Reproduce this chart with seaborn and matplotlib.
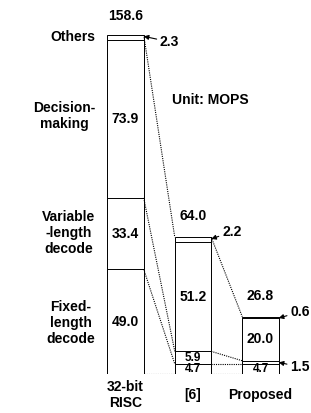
import matplotlib
matplotlib.use("Agg")
import matplotlib.pyplot as plt
import seaborn as sns
import numpy as np

categories = ["32-bit\nRISC", "[6]", "Proposed"]
fixed = [49.0, 4.7, 4.7]
variable = [33.4, 5.9, 1.5]
decision = [73.9, 51.2, 20.0]
others = [2.3, 2.2, 0.6]
totals = [158.6, 64.0, 26.8]
row_labels = ["Others", "Decision-\nmaking", "Variable\n-length\ndecode", "Fixed-\nlength\ndecode"]

sns.set_theme(style="white")
plt.rcParams['font.family'] = ['Liberation Sans', 'DejaVu Sans']
plt.rcParams['font.weight'] = 'bold'
plt.rcParams['text.color'] = 'black'

fig = plt.figure(figsize=(3.11, 4.13), dpi=100)
ax = fig.add_axes([0, 0.0944, 1, 0.828])

segs = np.array([fixed, variable, decision, others])
cum = np.cumsum(segs, axis=0)
W = 0.54
for level in range(cum.shape[0] - 1, -1, -1):
    sns.barplot(x=categories, y=list(cum[level]), order=categories, color="white",
                saturation=1, edgecolor="black", linewidth=0.7, width=W, ax=ax)

FS = 10
inside = {0: [0, 1, 2], 1: [0, 1, 2], 2: [0, 2]}
for i, levs in inside.items():
    for lv in levs:
        bottom = cum[lv - 1][i] if lv > 0 else 0
        mid = bottom + segs[lv][i] / 2
        fs = FS if segs[lv][i] > 8 else 8.5
        ax.text(i, mid, f"{segs[lv][i]:.1f}", ha="center", va="center", fontsize=fs,
                fontweight="bold", color="black")

tot_y = [167.5, 73.9, 36.5]
for i, t in enumerate(totals):
    ax.text(i, tot_y[i], f"{t:.1f}", ha="center", va="center", fontsize=FS, fontweight="bold",
            clip_on=False, color="black")

h = W / 2
arrows = [
    (f"{others[0]:.1f}", (0 + h, cum[3][0] - 0.6), (0.51, 155.4)),
    (f"{others[1]:.1f}", (1 + h, cum[3][1] - 0.8), (1.43, 66.5)),
    (f"{others[2]:.1f}", (2 + h, cum[3][2] - 0.6), (2.44, 29.0)),
    (f"{variable[2]:.1f}", (2 + h, cum[0][2] + variable[2] / 2), (2.44, 3.3)),
]
for txt, tip, pos in arrows:
    ax.annotate(txt, xy=tip, xytext=pos, ha="left", va="center", fontsize=FS, fontweight="bold",
                color="black",
                arrowprops=dict(arrowstyle="-|>", color="black", lw=0.8, mutation_scale=7,
                                shrinkA=0, shrinkB=0), annotation_clip=False)

for a, b in [(0, 1), (1, 2)]:
    la = [0] + list(cum[:, a])
    lb = [0] + list(cum[:, b])
    for idx in [0, 1, 2, 4]:
        ax.plot([a + h, b - h], [la[idx], lb[idx]], linestyle=(0, (1, 1)), color="black", lw=0.8)

row_y = [157.7, 120.7, 66.0, 23.9]
for lab, y in zip(row_labels, row_y):
    ax.text(-0.45, y, lab, ha="right", va="center", multialignment="center",
            fontsize=10, fontweight="bold", linespacing=1.2, color="black")

ax.text(1.25, 128.2, "Unit: MOPS", ha="center", va="center", fontsize=FS, fontweight="bold",
        color="black")

for i, c in enumerate(categories):
    ax.text(i, -9.8, c, ha="center", va="center", fontsize=FS, fontweight="bold",
            linespacing=1.15, clip_on=False, color="black")

ax.set_xlim(-1.859, 2.748)
ax.set_ylim(0, 160)
ax.axis("off")

fig.savefig("out.png", dpi=100)
